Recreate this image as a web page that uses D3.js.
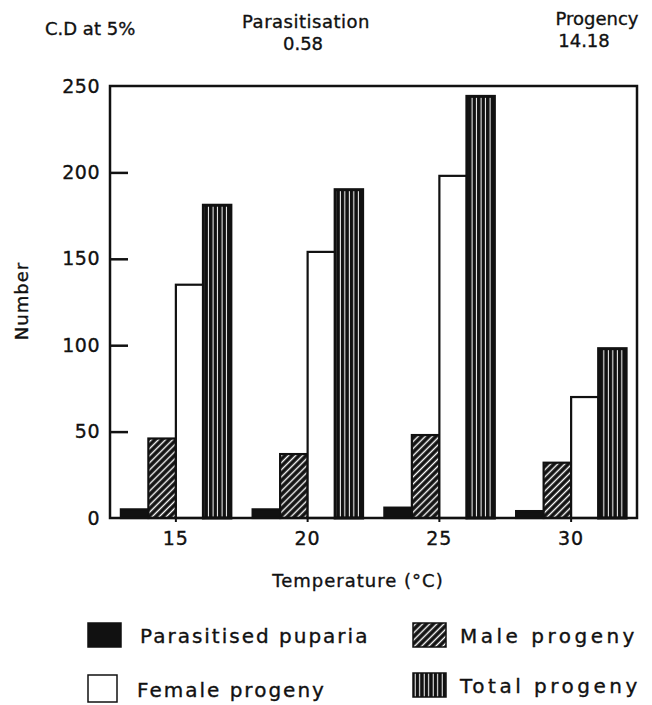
<!DOCTYPE html>
<html>
<head>
<meta charset="utf-8">
<script src="https://cdn.jsdelivr.net/npm/d3@7"></script>
<style>
  body { margin: 0; background: #fff; }
  text { font-family: "DejaVu Sans", sans-serif; fill: #111; stroke: #111; stroke-width: 0.35px; }
</style>
</head>
<body>
<div id="chart"></div>
<script>
// data
let temps = ['15', '20', '25', '30'];
let seriesNames = ['Parasitised puparia', 'Male progeny', 'Female progeny', 'Total progeny'];
let parasitised = [5, 5, 6, 4];
let male = [46, 37, 48, 32];
let female = [135, 154, 198, 70];
let total = [181, 190, 244, 98];
let yTicks = [0, 50, 100, 150, 200, 250];

let width = 652, height = 705;
let x0 = 110, x1 = 637, yTop = 86, yBottom = 518;

let svg = d3.select('#chart').append('svg')
  .attr('width', width)
  .attr('height', height);

// patterns
let defs = svg.append('defs');
let hatch = defs.append('pattern')
  .attr('id', 'hatch')
  .attr('patternUnits', 'userSpaceOnUse')
  .attr('width', 5).attr('height', 5)
  .attr('patternTransform', 'rotate(45)');
hatch.append('rect').attr('width', 5).attr('height', 5).attr('fill', '#111');
hatch.append('line').attr('x1', 2.5).attr('x2', 2.5).attr('y1', 0).attr('y2', 5)
  .attr('stroke', '#fff').attr('stroke-width', 1.4);

let vert = defs.append('pattern')
  .attr('id', 'vert')
  .attr('patternUnits', 'userSpaceOnUse')
  .attr('width', 4.5).attr('height', 10);
vert.append('rect').attr('width', 4.5).attr('height', 10).attr('fill', '#111');
vert.append('line').attr('x1', 2.2).attr('x2', 2.2).attr('y1', 0).attr('y2', 10)
  .attr('stroke', '#fff').attr('stroke-width', 1);

let fills = ['#111', 'url(#hatch)', '#fff', 'url(#vert)'];
let color = d3.scaleOrdinal().domain(seriesNames).range(fills);

let rows = temps.map((t, i) => ({
  temp: t,
  values: [parasitised[i], male[i], female[i], total[i]]
}));

// scales
let x = d3.scaleBand()
  .domain(temps)
  .range([x0, x1])
  .paddingInner(0.165)
  .paddingOuter(0.0825);

let xs = d3.scaleBand()
  .domain(seriesNames)
  .range([0, x.bandwidth()]);

let y = d3.scaleLinear()
  .domain([0, 250])
  .range([yBottom, yTop]);

// bars
let groups = svg.selectAll('.grp')
  .data(rows)
  .enter().append('g')
    .attr('class', 'grp')
    .attr('transform', d => `translate(${x(d.temp)},0)`);

groups.selectAll('rect')
  .data(d => d.values.map((v, j) => ({name: seriesNames[j], value: v})))
  .enter().append('rect')
    .attr('x', d => xs(d.name))
    .attr('y', d => y(d.value))
    .attr('width', xs.bandwidth())
    .attr('height', d => y(0) - y(d.value))
    .attr('fill', d => color(d.name))
    .attr('stroke', '#111')
    .attr('stroke-width', d => d.name === 'Total progeny' ? 3 : 2.2);

// frame
svg.append('rect')
  .attr('x', x0).attr('y', yTop)
  .attr('width', x1 - x0).attr('height', yBottom - yTop)
  .attr('fill', 'none')
  .attr('stroke', '#111')
  .attr('stroke-width', 2.5);

// y axis
let yAxis = svg.append('g')
  .attr('transform', `translate(${x0},0)`)
  .call(d3.axisLeft(y).tickValues(yTicks).tickSizeInner(-18).tickSizeOuter(0).tickPadding(10));
yAxis.select('.domain').remove();
yAxis.selectAll('.tick line')
  .attr('stroke', '#111')
  .attr('stroke-width', 2.5)
  .filter(d => d === 0 || d === 250).remove();
yAxis.selectAll('.tick text')
  .style('font-family', '"DejaVu Sans", sans-serif')
  .style('font-size', '19px')
  .style('letter-spacing', '0.5px')
  .attr('fill', '#111');

// x axis
let xAxis = svg.append('g')
  .attr('transform', `translate(0,${yBottom})`)
  .call(d3.axisBottom(x).tickSizeInner(4).tickSizeOuter(0).tickPadding(10));
xAxis.select('.domain').remove();
xAxis.selectAll('.tick line').attr('stroke', '#111').attr('stroke-width', 2);
xAxis.selectAll('.tick text')
  .style('font-family', '"DejaVu Sans", sans-serif')
  .style('font-size', '19px')
  .style('letter-spacing', '1px')
  .attr('fill', '#111');

// axis titles
svg.append('text')
  .attr('x', 358).attr('y', 587)
  .attr('text-anchor', 'middle')
  .style('font-size', '18px')
  .style('letter-spacing', '1px')
  .text('Temperature (°C)');

svg.append('text')
  .attr('transform', 'translate(28,301) rotate(-90)')
  .attr('text-anchor', 'middle')
  .style('font-size', '18px')
  .style('letter-spacing', '1px')
  .text('Number');

// header
svg.append('text').attr('x', 45).attr('y', 35).style('font-size', '18px').text('C.D at 5%');
svg.append('text').attr('x', 306).attr('y', 28).attr('text-anchor', 'middle')
  .style('font-size', '18px').style('letter-spacing', '0.5px').text('Parasitisation');
svg.append('text').attr('x', 303).attr('y', 50).attr('text-anchor', 'middle')
  .style('font-size', '18px').text('0.58');
svg.append('text').attr('x', 597).attr('y', 25).attr('text-anchor', 'middle')
  .style('font-size', '18px').text('Progency');
svg.append('text').attr('x', 584).attr('y', 47).attr('text-anchor', 'middle')
  .style('font-size', '18px').text('14.18');

// legend
let legendPos = [[88, 623], [413, 623], [88, 675], [413, 673]];
let legend = svg.selectAll('.legend')
  .data(seriesNames)
  .enter().append('g')
    .attr('class', 'legend')
    .attr('transform', (d, i) => `translate(${legendPos[i][0]},${legendPos[i][1]})`);

legend.append('rect')
  .attr('width', (d, i) => i === 2 ? 29 : 33)
  .attr('height', (d, i) => i === 2 ? 27 : 24)
  .attr('fill', color)
  .attr('stroke', '#111')
  .attr('stroke-width', 1.5);

legend.append('text')
  .attr('x', (d, i) => i === 2 ? 49 : (i === 0 ? 52 : 47))
  .attr('y', (d, i) => i === 2 ? 22 : 20)
  .style('font-size', '20px')
  .style('letter-spacing', (d, i) => i % 2 ? '3.5px' : '2px')
  .text(d => d);
</script>
</body>
</html>
